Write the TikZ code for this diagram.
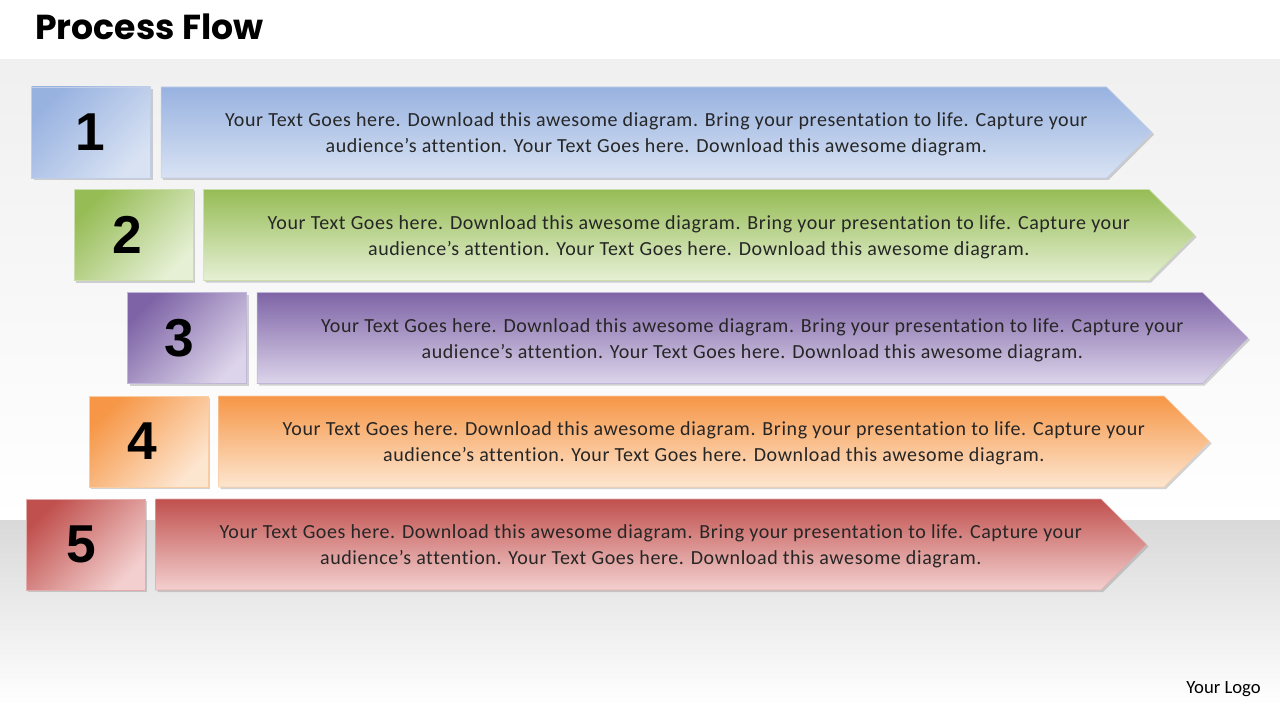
\documentclass[tikz,border=0pt]{standalone}
\usepackage{fontspec}
\setmainfont{Carlito}
\newfontfamily\bodyfont{Carlito}[LetterSpace=3, Ligatures=NoCommon]
\newfontfamily\titlefont{Poppins}
\newfontfamily\numfont{Liberation Sans}
\usetikzlibrary{positioning,shapes.symbols,shadows}

\definecolor{bluTop}{RGB}{152,178,224}
\definecolor{bluBot}{RGB}{216,226,243}
\definecolor{bluLine}{RGB}{192,206,232}
\definecolor{grnTop}{RGB}{150,188,85}
\definecolor{grnBot}{RGB}{230,240,213}
\definecolor{grnLine}{RGB}{202,222,172}
\definecolor{vioTop}{RGB}{126,100,166}
\definecolor{vioBot}{RGB}{220,212,234}
\definecolor{vioLine}{RGB}{192,182,216}
\definecolor{orgTop}{RGB}{246,150,70}
\definecolor{orgBot}{RGB}{253,230,208}
\definecolor{orgLine}{RGB}{250,204,164}
\definecolor{redTop}{RGB}{192,80,77}
\definecolor{redBot}{RGB}{243,208,207}
\definecolor{redLine}{RGB}{226,172,172}

\tikzset{
  numbox/.style={draw=#1Line, top color=#1Top, bottom color=#1Bot, shading angle=45,
    minimum width=89.25pt, minimum height=68.25pt, inner sep=0pt,
    drop shadow={opacity=0.35, shadow xshift=1.5pt, shadow yshift=-1.5pt}},
  numtext/.style={inner sep=0pt, font=\numfont\bfseries\fontsize{40}{40}\selectfont},
  arrowbox/.style={shape=signal, signal to=east, signal pointer angle=90,
    draw=#1Line, top color=#1Top, bottom color=#1Bot,
    minimum width=743.25pt, minimum height=68.25pt, inner sep=0pt,
    drop shadow={opacity=0.35, shadow xshift=1.5pt, shadow yshift=-1.5pt}},
  steptext/.style={align=center, text=black!85, inner sep=0pt,
    font=\bodyfont\fontsize{15}{19.5}\selectfont}
}

\begin{document}
\begin{tikzpicture}[x=0.75pt,y=-0.75pt]
  \useasboundingbox (0,0) rectangle (1280,720);
  % background
  \fill[white] (0,0) rectangle (1280,60);
  \shade[top color=black!6, bottom color=white] (0,60) rectangle (1280,520);
  \shade[top color=black!15, bottom color=white] (0,520) rectangle (1280,705);
  \fill[white] (0,705) rectangle (1280,720);
  \node[anchor=base west, inner sep=0pt, font=\titlefont\bfseries\fontsize{26}{26}\selectfont] (title) at (35,40) {Process Flow};
  % steps
  \foreach \n/\cx/\cy/\dx/\c in {1/91/132.5/-0.8/blu, 2/133.5/235/-4.5/grn, 3/187/338/-6/vio,
                                 4/148.5/441.5/-4.5/org, 5/85.5/544.5/-3.4/red}{
    \node[numbox=\c] (num\n) at (\cx,\cy) {};
    \node[numtext, xshift=\dx pt] (no\n) at (num\n.center) {\n};
    \node[arrowbox=\c, right=7.5pt of num\n] (step\n) {};
    \node[steptext, xshift=16.9pt, yshift=-1.5pt] (txt\n) at (step\n.center)
      {Your Text Goes here. Download this awesome diagram. Bring your presentation to life. Capture your\\
       audience’s attention. Your Text Goes here. Download this awesome diagram.};
  }
  \node[anchor=base east, inner sep=0pt, font=\fontsize{14}{14}\selectfont] (logo) at (1261,693) {Your Logo};
\end{tikzpicture}
\end{document}
